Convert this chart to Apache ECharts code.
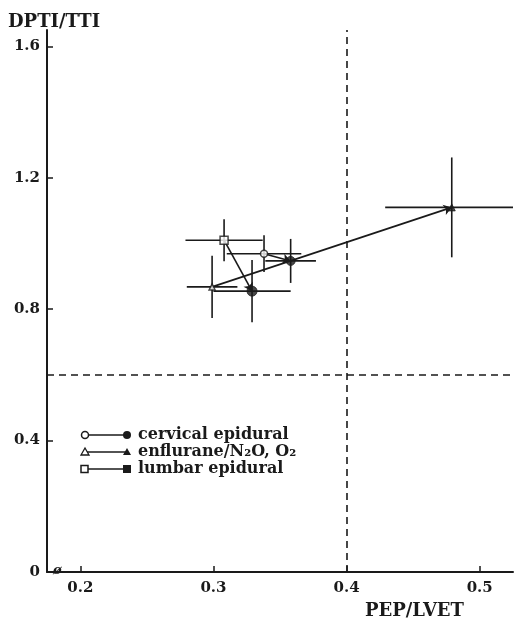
<!DOCTYPE html>
<html><head><meta charset="utf-8">
<script src="https://cdn.jsdelivr.net/npm/echarts@6/dist/echarts.min.js"></script>
<style>html,body{margin:0;padding:0;background:#fff}#c{width:514px;height:620px}</style>
</head><body><div id="c"></div>
<script>
// ---- data ----
const groups = ['cervical epidural', 'enflurane/N\u2082O, O\u2082', 'lumbar epidural'];
const xTicks = [0.2, 0.3, 0.4, 0.5];
const yTicks = [0, 0.4, 0.8, 1.2, 1.6];
const prePEP   = [0.338, 0.299, 0.308];
const preDPTI  = [0.969, 0.868, 1.010];
const preXErr  = [0.028, 0.019, 0.029];
const preYErr  = [0.056, 0.095, 0.064];
const postPEP  = [0.358, 0.479, 0.329];
const postDPTI = [0.947, 1.110, 0.855];
const postXErr = [0.019, 0.050, 0.029];
const postYErr = [0.067, 0.152, 0.095];
const refPEP = 0.4;
const refDPTI = 0.6;

const INK = '#1a1a1a';
const FONT = 'DejaVu Serif';
const preSymbols = ['circle', 'triangle', 'rect'];
const preSizes = [7, 6, 8];
const postSymbols = ['circle', 'triangle', 'circle'];
const postSizes = [9, 7, 10];

const errData = [];
for (let i = 0; i < 3; i++) {
  errData.push([prePEP[i], preDPTI[i], preXErr[i], preYErr[i]]);
  errData.push([postPEP[i], postDPTI[i], postXErr[i], postYErr[i]]);
}
const pointData = [];
for (let i = 0; i < 3; i++) {
  pointData.push({value: [prePEP[i], preDPTI[i]], symbol: preSymbols[i], symbolSize: preSizes[i],
    itemStyle: {color: '#fff', borderColor: INK, borderWidth: 1.5}});
  pointData.push({value: [postPEP[i], postDPTI[i]], symbol: postSymbols[i], symbolSize: postSizes[i],
    itemStyle: {color: INK, borderColor: INK, borderWidth: 1}});
}
const arrowData = [];
for (let i = 0; i < 3; i++) {
  arrowData.push({coords: [[prePEP[i], preDPTI[i]], [postPEP[i], postDPTI[i]]]});
}

// legend drawn as graphic (open marker -- filled marker)
const legendGraphic = [];
const legY = [435, 452, 469];
const legOpen = ['circle', 'triangle', 'rect'];
groups.forEach((g, i) => {
  const y = legY[i];
  legendGraphic.push({type: 'line', shape: {x1: 86, y1: y, x2: 126, y2: y}, style: {stroke: INK, lineWidth: 1.5}});
  if (legOpen[i] === 'circle') {
    legendGraphic.push({type: 'circle', shape: {cx: 85, cy: y, r: 3.5}, style: {fill: '#fff', stroke: INK, lineWidth: 1.5}});
    legendGraphic.push({type: 'circle', shape: {cx: 127, cy: y, r: 4}, style: {fill: INK}});
  } else if (legOpen[i] === 'triangle') {
    legendGraphic.push({type: 'polygon', shape: {points: [[85, y - 4], [89, y + 3], [81, y + 3]]}, style: {fill: '#fff', stroke: INK, lineWidth: 1.3}});
    legendGraphic.push({type: 'polygon', shape: {points: [[127, y - 4], [131, y + 3], [123, y + 3]]}, style: {fill: INK}});
  } else {
    legendGraphic.push({type: 'rect', shape: {x: 81, y: y - 3.5, width: 7, height: 7}, style: {fill: '#fff', stroke: INK, lineWidth: 1.5}});
    legendGraphic.push({type: 'rect', shape: {x: 123, y: y - 4, width: 8, height: 8}, style: {fill: INK}});
  }
  legendGraphic.push({type: 'text', x: 138, y: y, style: {text: g, fill: INK, font: 'bold 16px "' + FONT + '"', verticalAlign: 'middle'}});
});

const chart = echarts.init(document.getElementById('c'));
chart.setOption({
  animation: false,
  backgroundColor: '#fff',
  grid: {left: 47, right: 1, top: 30, bottom: 48, containLabel: false},
  xAxis: {
    type: 'value', min: 0.175, max: 0.525,
    axisLine: {show: true, onZero: false, lineStyle: {color: INK, width: 2}},
    axisTick: {show: true, inside: true, length: 6, customValues: xTicks, lineStyle: {color: INK, width: 1.5}},
    axisLabel: {customValues: xTicks, margin: 9, color: INK, fontFamily: FONT, fontWeight: 'bold', fontSize: 15,
      formatter: v => v.toFixed(1)},
    splitLine: {show: false}
  },
  yAxis: {
    type: 'value', min: 0, max: 1.65,
    axisLine: {show: true, onZero: false, lineStyle: {color: INK, width: 2}},
    axisTick: {show: true, inside: true, length: 6, customValues: yTicks, lineStyle: {color: INK, width: 1.5}},
    axisLabel: {customValues: yTicks, margin: 7, color: INK, fontFamily: FONT, fontWeight: 'bold', fontSize: 15,
      formatter: v => (v === 0 ? '0' : v.toFixed(1))},
    splitLine: {show: false}
  },
  graphic: [
    {type: 'text', x: 8, y: 22, style: {text: 'DPTI/TTI', fill: INK, font: 'bold 18px "' + FONT + '"', verticalAlign: 'middle'}},
    {type: 'text', x: 365, y: 611, style: {text: 'PEP/LVET', fill: INK, font: 'bold 18px "' + FONT + '"', verticalAlign: 'middle'}},
    {type: 'text', x: 53, y: 571, style: {text: '\u00f8', fill: INK, font: 'italic bold 13px "' + FONT + '"', verticalAlign: 'middle'}}
  ].concat(legendGraphic),
  series: [
    {
      type: 'custom', name: 'err', clip: true, z: 2,
      data: errData,
      renderItem: function (params, api) {
        const x = api.value(0), y = api.value(1), ex = api.value(2), ey = api.value(3);
        const l = api.coord([x - ex, y]), r = api.coord([x + ex, y]);
        const t = api.coord([x, y + ey]), b = api.coord([x, y - ey]);
        const st = {stroke: INK, lineWidth: 1.6};
        return {type: 'group', children: [
          {type: 'line', shape: {x1: l[0], y1: l[1], x2: r[0], y2: r[1]}, style: st},
          {type: 'line', shape: {x1: t[0], y1: t[1], x2: b[0], y2: b[1]}, style: st}
        ]};
      }
    },
    {
      type: 'lines', coordinateSystem: 'cartesian2d', z: 3,
      symbol: ['none', 'arrow'], symbolSize: 8,
      lineStyle: {color: INK, width: 1.6, opacity: 1},
      data: arrowData,
      markLine: {
        silent: true, symbol: 'none', label: {show: false},
        lineStyle: {color: INK, type: [7, 5], width: 1.6},
        data: [{xAxis: refPEP}, {yAxis: refDPTI}]
      }
    },
    {
      type: 'scatter', z: 4,
      data: pointData
    }
  ]
});
</script></body></html>
